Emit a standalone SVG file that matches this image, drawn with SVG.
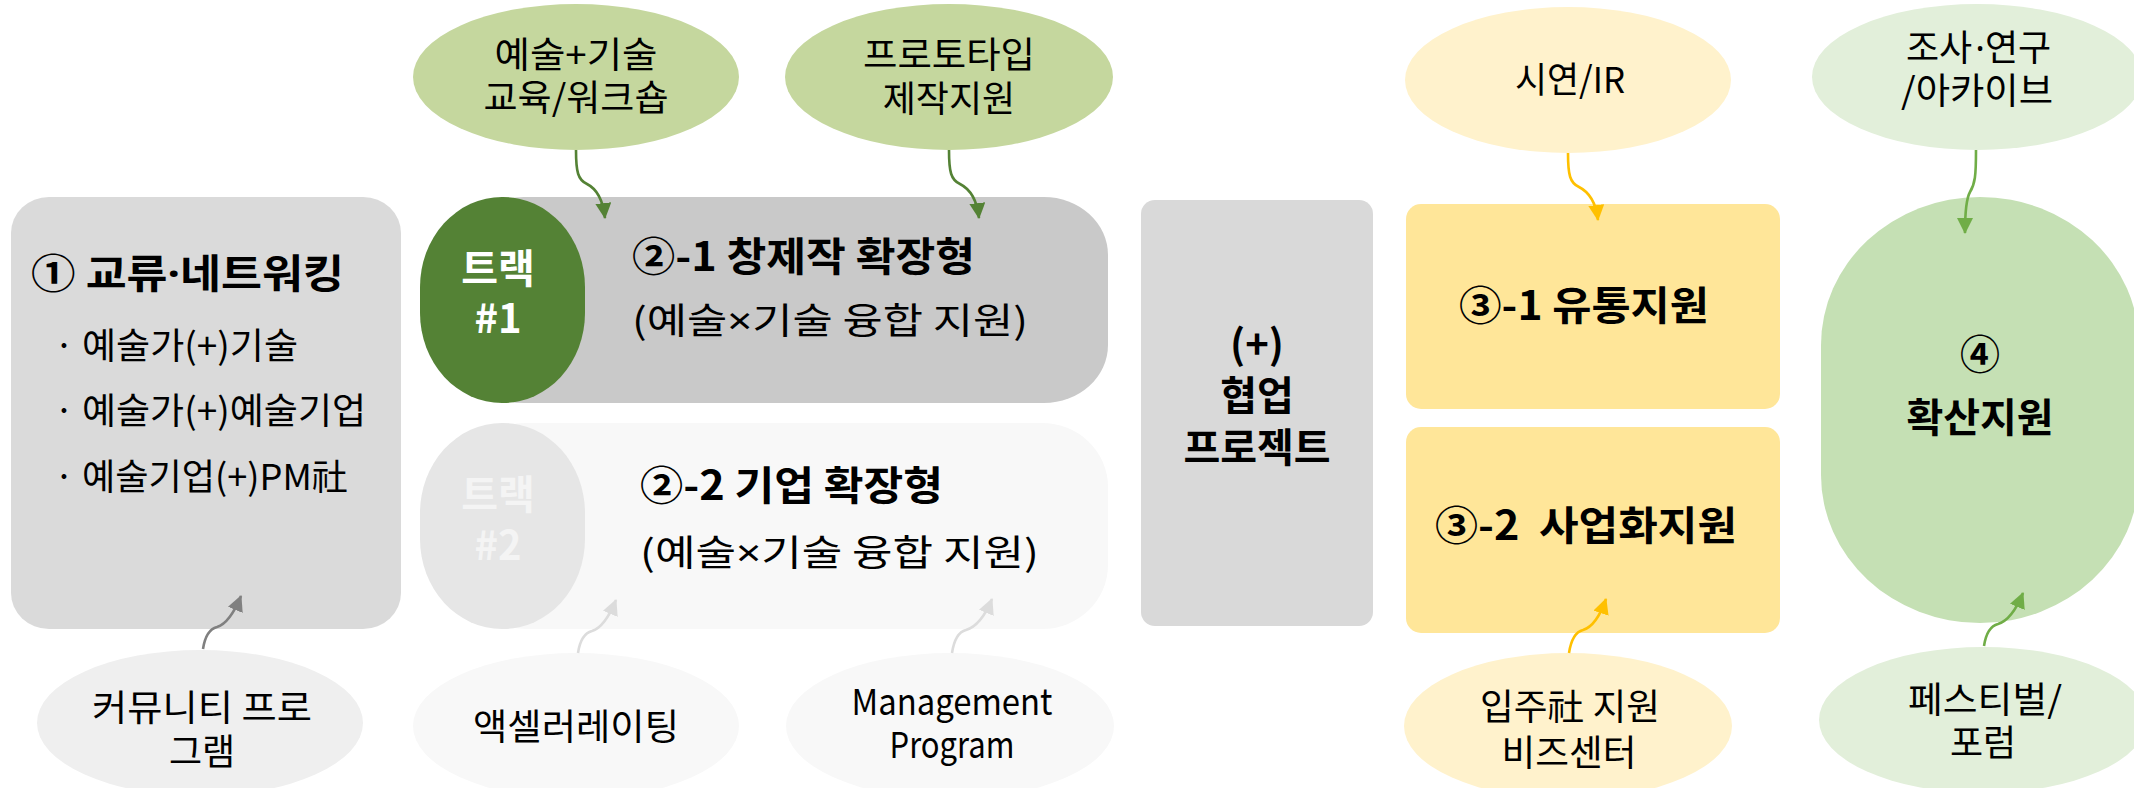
<svg xmlns="http://www.w3.org/2000/svg" width="2134" height="788" viewBox="0 0 2134 788">
<style>
text{font-family:"Noto Sans CJK KR","Noto Sans",sans-serif;fill:#000;}
.r{font-size:36px;}
.b{font-size:40px;font-weight:700;}
.m{text-anchor:middle;}
.w{fill:#FFFFFF;}
.w2{fill:#F4F4F4;}
.n{font-family:"Noto Sans","DejaVu Sans",sans-serif;}
.c{fill:none;stroke-width:2.6;}
</style>
<defs>
<marker id="ah-dg" markerUnits="userSpaceOnUse" markerWidth="16" markerHeight="16" viewBox="0 0 16 16" refX="15" refY="8" orient="auto"><path d="M0,0 L16,8 L0,16 Z" fill="#548235"/></marker>
<marker id="ah-gy" markerUnits="userSpaceOnUse" markerWidth="16" markerHeight="16" viewBox="0 0 16 16" refX="15" refY="8" orient="auto"><path d="M0,0 L16,8 L0,16 Z" fill="#808080"/></marker>
<marker id="ah-lg" markerUnits="userSpaceOnUse" markerWidth="16" markerHeight="16" viewBox="0 0 16 16" refX="15" refY="8" orient="auto"><path d="M0,0 L16,8 L0,16 Z" fill="#DCDCDC"/></marker>
<marker id="ah-y" markerUnits="userSpaceOnUse" markerWidth="16" markerHeight="16" viewBox="0 0 16 16" refX="15" refY="8" orient="auto"><path d="M0,0 L16,8 L0,16 Z" fill="#FFC000"/></marker>
<marker id="ah-g" markerUnits="userSpaceOnUse" markerWidth="16" markerHeight="16" viewBox="0 0 16 16" refX="15" refY="8" orient="auto"><path d="M0,0 L16,8 L0,16 Z" fill="#70AD47"/></marker>
</defs>
<rect width="2134" height="788" fill="#FFFFFF"/>

<g id="node-exchange">
<rect x="11" y="197" width="390" height="432" rx="38" ry="36" fill="#DADADA"/>
<text class="b" x="31" y="288" textLength="313" lengthAdjust="spacingAndGlyphs"><tspan>① 교류</tspan><tspan class="n">·</tspan><tspan>네트워킹</tspan></text>
<text class="r"><tspan x="54" y="359">·</tspan><tspan x="82" y="359" textLength="216" lengthAdjust="spacingAndGlyphs">예술가(+)기술</tspan><tspan x="54" y="424">·</tspan><tspan x="82" y="424" textLength="284" lengthAdjust="spacingAndGlyphs">예술가(+)예술기업</tspan><tspan x="54" y="490">·</tspan><tspan x="82" y="490" textLength="266" lengthAdjust="spacingAndGlyphs">예술기업(+)PM社</tspan></text>
</g>

<g id="node-track1">
<rect x="460" y="197" width="648" height="206" rx="64" ry="58" fill="#C9C9C9"/>
<rect x="420" y="197" width="165" height="206" rx="82" ry="90" fill="#548235"/>
<text class="b m w"><tspan x="498" y="283">트랙</tspan><tspan x="498" y="333">#1</tspan></text>
<text class="b" x="632" y="271" textLength="343" lengthAdjust="spacingAndGlyphs">②-1 창제작 확장형</text>
<text class="r" x="632" y="334" font-size="38" textLength="396" lengthAdjust="spacingAndGlyphs"><tspan>(예술</tspan><tspan class="n">×</tspan><tspan>기술 융합 지원)</tspan></text>
</g>

<g id="node-track2">
<rect x="460" y="423" width="648" height="206" rx="66" ry="64" fill="#F8F8F8"/>
<rect x="420" y="423" width="165" height="206" rx="82" ry="90" fill="#E6E6E6"/>
<text class="b m w2"><tspan x="498" y="509">트랙</tspan><tspan x="498" y="560">#2</tspan></text>
<text class="b" x="640" y="500" textLength="303" lengthAdjust="spacingAndGlyphs">②-2 기업 확장형</text>
<text class="r" x="640" y="566" font-size="38" textLength="399" lengthAdjust="spacingAndGlyphs"><tspan>(예술</tspan><tspan class="n">×</tspan><tspan>기술 융합 지원)</tspan></text>
</g>

<g id="node-collab">
<rect x="1141" y="200" width="232" height="426" rx="14" ry="14" fill="#D9D9D9"/>
<text class="b m"><tspan x="1257" y="359">(+)</tspan><tspan x="1257" y="410">협업</tspan><tspan x="1257" y="462">프로젝트</tspan></text>
</g>

<g id="node-dist">
<rect x="1406" y="204" width="374" height="205" rx="15" ry="15" fill="#FFE699"/>
<text class="b" x="1459" y="320" textLength="250" lengthAdjust="spacingAndGlyphs">③-1 유통지원</text>
</g>

<g id="node-biz">
<rect x="1406" y="427" width="374" height="206" rx="15" ry="15" fill="#FFE699"/>
<text class="b" x="1435" y="540" textLength="302" lengthAdjust="spacingAndGlyphs" xml:space="preserve">③-2  사업화지원</text>
</g>

<g id="node-spread">
<rect x="1821" y="197" width="318" height="426" rx="159" ry="148" fill="#C5E0B4"/>
<text class="b m"><tspan x="1980" y="369">④</tspan><tspan x="1980" y="432">확산지원</tspan></text>
</g>

<g id="node-edu">
<ellipse cx="576" cy="77" rx="163" ry="73" fill="#C5D79E"/>
<text class="r m"><tspan x="576" y="68" textLength="163" lengthAdjust="spacingAndGlyphs">예술+기술</tspan><tspan x="576" y="111" textLength="185" lengthAdjust="spacingAndGlyphs">교육/워크숍</tspan></text>
</g>

<g id="node-proto">
<ellipse cx="949" cy="77" rx="164" ry="73" fill="#C5D79E"/>
<text class="r m"><tspan x="949" y="68" textLength="172" lengthAdjust="spacingAndGlyphs">프로토타입</tspan><tspan x="949" y="112">제작지원</tspan></text>
</g>

<g id="node-demo">
<ellipse cx="1568" cy="80" rx="163" ry="73" fill="#FFF2CC"/>
<text class="r m" x="1570" y="93" textLength="110" lengthAdjust="spacingAndGlyphs">시연/IR</text>
</g>

<g id="node-research">
<ellipse cx="1977" cy="77" rx="165" ry="73" fill="#E2EFDA"/>
<text class="r m"><tspan x="1939" y="61">조사</tspan><tspan class="n" x="1980" y="61">·</tspan><tspan x="2018" y="61">연구</tspan><tspan x="1977" y="104" textLength="152" lengthAdjust="spacingAndGlyphs">/아카이브</tspan></text>
</g>

<g id="node-community">
<ellipse cx="200" cy="723" rx="163" ry="73" fill="#EFEFEF"/>
<text class="r m"><tspan x="202" y="721" textLength="220" lengthAdjust="spacingAndGlyphs">커뮤니티 프로</tspan><tspan x="202" y="765">그램</tspan></text>
</g>

<g id="node-accel">
<ellipse cx="576" cy="726" rx="163" ry="73" fill="#F8F8F8"/>
<text class="r m" x="576" y="740" textLength="206" lengthAdjust="spacingAndGlyphs">액셀러레이팅</text>
</g>

<g id="node-mgmt">
<ellipse cx="950" cy="726" rx="164" ry="73" fill="#F8F8F8"/>
<text class="r m"><tspan x="952" y="715" textLength="201" lengthAdjust="spacingAndGlyphs">Management</tspan><tspan x="952" y="758" textLength="125" lengthAdjust="spacingAndGlyphs">Program</tspan></text>
</g>

<g id="node-resident">
<ellipse cx="1568" cy="726" rx="164" ry="73" fill="#FFF2CC"/>
<text class="r m"><tspan x="1570" y="720" textLength="180" lengthAdjust="spacingAndGlyphs">입주社 지원</tspan><tspan x="1569" y="766" textLength="135" lengthAdjust="spacingAndGlyphs">비즈센터</tspan></text>
</g>

<g id="node-festival">
<ellipse cx="1983" cy="720" rx="164" ry="73" fill="#E2EFDA"/>
<text class="r m"><tspan x="1985" y="713" textLength="154" lengthAdjust="spacingAndGlyphs">페스티벌/</tspan><tspan x="1983" y="756">포럼</tspan></text>
</g>

<g id="connectors">
<path class="c" stroke="#548235" marker-end="url(#ah-dg)" d="M576,150 C576,172 578,180 587,184 C597,189 603,200 605,218"/>
<path class="c" stroke="#548235" marker-end="url(#ah-dg)" d="M949,150 C949,172 951,180 960,184 C970,189 977,200 979,218"/>
<path class="c" stroke="#FFC000" marker-end="url(#ah-y)" d="M1568,153 C1568,175 1570,183 1579,187 C1589,192 1596,203 1598,220"/>
<path class="c" stroke="#70AD47" marker-end="url(#ah-g)" d="M1976,150 C1976,176 1975,184 1970,192 C1966,199 1965,212 1965,233"/>
<path class="c" stroke="#808080" marker-end="url(#ah-gy)" d="M203,649 C205,636 209,629 217,627 C227,624 234,613 241,596"/>
<path class="c" stroke="#DCDCDC" marker-end="url(#ah-lg)" d="M578,653 C580,640 584,633 592,631 C602,628 609,617 616,600"/>
<path class="c" stroke="#DCDCDC" marker-end="url(#ah-lg)" d="M952,653 C954,640 958,632 966,630 C976,627 985,616 992,599"/>
<path class="c" stroke="#FFC000" marker-end="url(#ah-y)" d="M1569,653 C1571,640 1575,632 1583,630 C1593,627 1600,616 1606,599"/>
<path class="c" stroke="#70AD47" marker-end="url(#ah-g)" d="M1984,646 C1986,633 1990,626 1998,624 C2008,621 2016,610 2023,593"/>
</g>
</svg>
